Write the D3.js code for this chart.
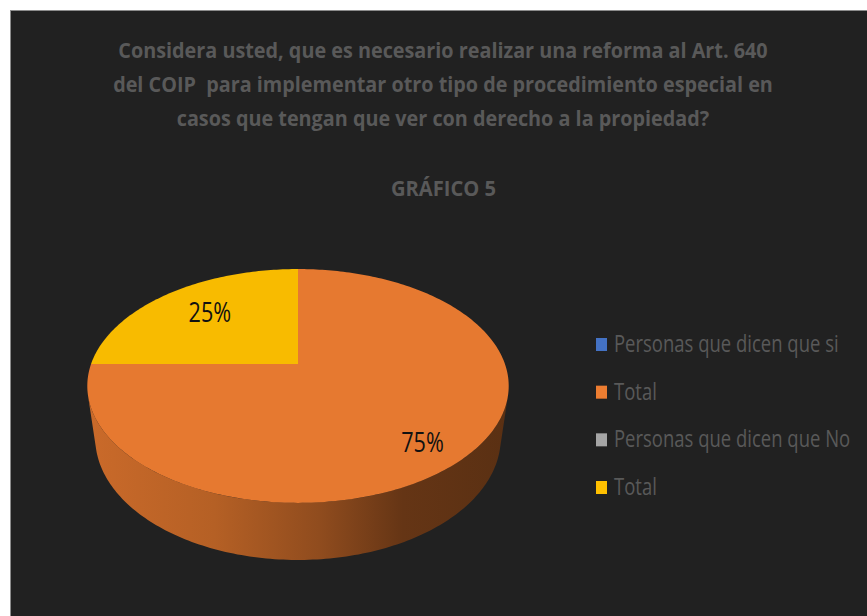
<!DOCTYPE html>
<html>
<head>
<meta charset="utf-8">
<script src="https://cdn.jsdelivr.net/npm/d3@7"></script>
<style>
  html, body { margin: 0; padding: 0; background: #fff; }
  svg { display: block; }
</style>
</head>
<body>
<svg id="chart" width="867" height="616"></svg>
<script>
// data
const categories = ["Personas que dicen que si", "Total", "Personas que dicen que No", "Total"];
const values = [0, 75, 0, 25];
const colors = ["#4472c4", "#ed7d31", "#a5a5a5", "#ffc000"];
const titleLines = [
  "Considera usted, que es necesario realizar una reforma al Art. 640",
  "del COIP  para implementar otro tipo de procedimiento especial en",
  "casos que tengan que ver con derecho a la propiedad?"
];
const subtitle = "GRÁFICO 5";

const width = 867, height = 616;
const svg = d3.select("#chart");
const font = "'Open Sans', 'Noto Sans', sans-serif";
const textColor = "#595959";

// squeeze text horizontally (reference font is a narrow one)
function squeeze(sel, k) {
  sel.each(function () {
    const w = this.getComputedTextLength();
    this.setAttribute("textLength", w * k);
    this.setAttribute("lengthAdjust", "spacingAndGlyphs");
  });
}

// chart area
svg.append("rect")
  .attr("x", 10.5).attr("y", 10.5)
  .attr("width", width).attr("height", height)
  .attr("fill", "#212121")
  .attr("stroke", "#8c8c8c").attr("stroke-width", 1);

// title
const title = svg.append("g").attr("font-family", font).attr("font-weight", 700)
  .attr("fill", textColor).attr("text-anchor", "middle");
title.selectAll("text.t")
  .data(titleLines)
  .join("text")
  .attr("class", "t")
  .attr("x", 443)
  .attr("y", (d, i) => 58 + i * 34)
  .attr("font-size", 22)
  .attr("xml:space", "preserve")
  .text(d => d)
  .call(squeeze, 0.9);
title.append("text")
  .attr("x", 443.5).attr("y", 196)
  .attr("font-size", 21)
  .text(subtitle)
  .call(squeeze, 0.96);

// 3D pie with perspective
const cam = { cx: 298, cy: 364, F: 923, D: 4.46, s: 0.545, c: 0.838, h: 0.31 };
function proj(X, Y, Z) {
  const depth = cam.D + cam.c * Z - cam.s * Y;
  const up = cam.c * Y + cam.s * Z;
  return [cam.cx + cam.F * X / depth, cam.cy - cam.F * up / depth];
}
// angle clockwise from 12 o'clock, radius r, level y
function rim(a, r, y) { return proj(r * Math.sin(a), y, r * Math.cos(a)); }
function arcPts(a0, a1, y) {
  const n = Math.max(2, Math.ceil(Math.abs(a1 - a0) / (Math.PI / 180)));
  return d3.range(n + 1).map(i => rim(a0 + (a1 - a0) * i / n, 1, y));
}

const arcs = d3.pie().sort(null).value(d => d)(values)
  .map((d, i) => ({ ...d, i }))
  .filter(d => d.endAngle - d.startAngle > 1e-6);

const line = d3.line();
const pieG = svg.append("g");
const defs = svg.append("defs");

// side walls (front facing part only)
const cosLim = -1 / (cam.D * cam.c);
const fMin = Math.acos(cosLim), fMax = 2 * Math.PI - fMin;
const xL = rim(fMin, 1, 0)[0], xR = rim(fMax, 1, 0)[0];
const shade = [[0, 0.45], [0.3, 0.75], [0.55, 1.4], [0.75, 2.4], [1, 2.7]];

arcs.forEach(d => {
  const lo = Math.max(d.startAngle, fMin), hi = Math.min(d.endAngle, fMax);
  if (hi <= lo) return;
  const gid = "side" + d.i;
  const grad = defs.append("linearGradient").attr("id", gid)
    .attr("gradientUnits", "userSpaceOnUse")
    .attr("x1", xR).attr("x2", xL).attr("y1", 0).attr("y2", 0);
  grad.selectAll("stop").data(shade).join("stop")
    .attr("offset", s => s[0])
    .attr("stop-color", s => d3.color(colors[d.i]).darker(s[1]).formatHex());
  const pts = arcPts(lo, hi, 0).concat(arcPts(hi, lo, -cam.h));
  pieG.append("path")
    .attr("d", line(pts) + "Z")
    .attr("fill", `url(#${gid})`);
});

// top faces
arcs.forEach(d => {
  const pts = [proj(0, 0, 0)].concat(arcPts(d.startAngle, d.endAngle, 0));
  pieG.append("path")
    .attr("d", line(pts) + "Z")
    .attr("fill", d3.color(colors[d.i]).darker(0.08).formatHex());
});

// data labels
const total = d3.sum(values);
const labelPos = d => {
  const a = (d.startAngle + d.endAngle) / 2;
  const [x, y] = rim(a, 0.72, 0);
  return [x + 8, y + 8 - 10 * Math.cos(a)];
};
pieG.selectAll("text.lbl")
  .data(arcs)
  .join("text")
  .attr("class", "lbl")
  .attr("font-family", font)
  .attr("font-size", 27)
  .attr("fill", "#111")
  .attr("text-anchor", "middle")
  .attr("dy", "0.36em")
  .attr("x", d => labelPos(d)[0])
  .attr("y", d => labelPos(d)[1])
  .text(d => d3.format(".0%")(d.value / total))
  .call(squeeze, 0.8);

// legend
const ly = d3.scalePoint().domain(d3.range(categories.length)).range([344.5, 487.5]);
const legend = svg.append("g").attr("font-family", font);
const items = legend.selectAll("g").data(categories).join("g")
  .attr("transform", (d, i) => `translate(596,${ly(i)})`);
items.append("rect")
  .attr("x", 0).attr("y", -6.5)
  .attr("width", 11).attr("height", 13)
  .attr("fill", (d, i) => colors[i]);
items.append("text")
  .attr("x", 18).attr("y", 7.5)
  .attr("font-size", 24)
  .attr("fill", textColor)
  .text(d => d)
  .call(squeeze, 0.77);
</script>
</body>
</html>
